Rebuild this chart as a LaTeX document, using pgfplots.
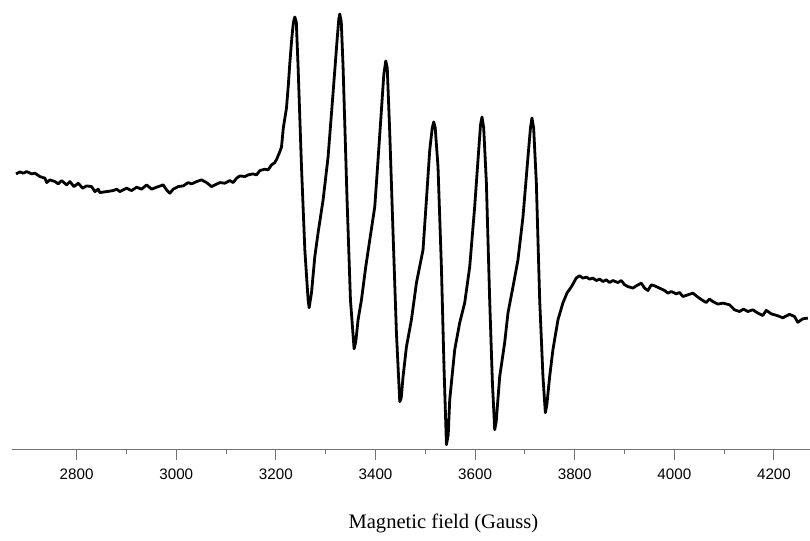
\documentclass[border=0pt]{standalone}
\usepackage{pgfplots}
\pgfplotsset{compat=1.18}
\usepackage{fontspec}
\setmainfont{Liberation Sans}
\newfontfamily\timesf{Liberation Serif}
\begin{document}
\begin{tikzpicture}
\begin{axis}[
  scale only axis,
  width=399pt, height=225pt,
  xmin=2670.2, xmax=4271.3,
  ymin=0, ymax=450,
  axis x line*=bottom,
  axis y line=none,
  clip=false,
  xtick={2800,3000,3200,3400,3600,3800,4000,4200},
  minor x tick num=1,
  tick align=outside,
  major tick length=5pt,
  minor tick length=2pt,
  x axis line style={draw=black!55, line width=0.5pt, -},
  every tick/.style={draw=black!55, line width=0.5pt},
  /pgf/number format/assume math mode=true,
  /pgf/number format/set thousands separator={},
  xticklabel style={font=\fontsize{7.6}{9}\selectfont, anchor=base, yshift=-9.85pt},
  xlabel={Magnetic field (Gauss)},
  xlabel style={font=\timesf\fontsize{10.3}{12}\selectfont, at={(axis description cs:0.541,0)}, anchor=base, yshift=-39.65pt},
]
\addplot[black, line width=1.4pt, line join=round, mark=none] coordinates {
(2678.2,276) (2686.2,278) (2692.9,276.7) (2699.7,278.3) (2709.7,276) (2716.3,276.7)
(2726.4,273.3) (2736.4,271.7) (2739.8,267.3) (2746.4,270) (2756.5,268.3) (2763.1,266)
(2769.9,269.3) (2779.9,265) (2786.5,268.3) (2794.6,263.3) (2803.2,266.7) (2812.0,261.7)
(2820.1,264) (2830.1,263.3) (2836.7,258.3) (2843.3,260.7) (2846.7,257.3) (2860.2,258.3)
(2873.4,259.3) (2880.2,260.7) (2886.9,258.3) (2900.3,261.7) (2910.3,259.3) (2920.4,262.7)
(2930.4,260.7) (2940.4,265) (2950.5,260.7) (2960.5,262.7) (2973.7,265) (2980.6,260)
(2987.2,256.7) (2993.8,260.7) (3003.8,263.3) (3013.9,264) (3023.9,267.3) (3030.7,266)
(3040.8,268.3) (3050.8,270) (3060.8,267.3) (3070.9,263.3) (3077.5,265) (3087.5,267.3)
(3097.5,266.7) (3107.6,269.3) (3114.2,267.3) (3121.0,271.7) (3127.6,274) (3137.7,273.3)
(3144.3,275) (3154.3,276) (3161.1,275) (3167.8,279.3) (3177.8,280.7) (3184.4,280)
(3191.2,285) (3197.9,287.3) (3202.5,291.7) (3207.9,298.3)
(3211.3,303) (3214.9,322) (3221.3,342) (3225.0,365) (3228.0,387) (3232.0,412)
(3235.0,427) (3238.0,433) (3241.0,428) (3244.6,383) (3251.4,283) (3258.1,200)
(3264.7,150) (3266.7,142) (3271.5,157) (3278.1,193) (3284.7,217) (3294.8,250)
(3304.8,293) (3314.8,357) (3322.9,410) (3326.3,431) (3328.3,436) (3331.3,428)
(3334.9,383) (3342.9,250) (3349.7,150) (3357.0,101) (3360.4,108) (3365.0,130)
(3371.8,150) (3380.4,183) (3388.5,210) (3398.5,243) (3405.1,290) (3411.9,340)
(3416.6,375) (3420.6,389) (3423.6,382) (3428.6,317) (3435.2,217) (3442.0,117)
(3448.7,48) (3451.7,52) (3455.3,73) (3462.1,103) (3472.1,130) (3482.2,167)
(3495.4,200) (3502.2,250) (3508.9,300) (3513.9,322) (3516.9,328) (3519.9,322)
(3525.5,283) (3532.3,183) (3537.5,83) (3542.4,5) (3546.0,15) (3549.0,50)
(3559.0,100) (3569.0,127) (3579.1,147) (3589.1,183) (3599.1,243) (3607.2,300)
(3610.8,325) (3613.8,333) (3617.2,322) (3622.6,267) (3629.2,150) (3634.7,67)
(3639.3,20) (3642.3,28) (3649.3,73) (3659.3,107) (3666.0,137) (3676.0,163)
(3686.0,190) (3696.1,233) (3706.1,293) (3711.1,322) (3714.1,332) (3717.5,322)
(3722.9,267) (3729.6,150) (3736.2,73) (3741.0,37) (3744.0,45) (3749.6,73)
(3756.2,100) (3766.3,130) (3776.3,147) (3784.7,157) (3793.2,163) (3798.8,168)
(3803.2,172)
(3809.8,174) (3816.4,171.7) (3823.3,172.7) (3829.9,170.7) (3836.5,171.7) (3843.3,169.3)
(3849.9,170.7) (3856.6,168.3) (3863.4,170) (3870.0,167.3) (3876.6,169.3) (3886.7,167.3)
(3893.5,169.3) (3900.1,165) (3906.7,163.3) (3916.8,161.7) (3923.6,164) (3933.6,166.7)
(3940.2,161.7) (3946.9,159.3) (3953.7,165) (3960.3,164) (3970.3,161.7) (3980.4,159.3)
(3987.0,156.7) (3993.8,158.3) (4003.8,156) (4010.5,157.3) (4017.1,153.3) (4027.1,155)
(4037.1,156.7) (4047.2,152.7) (4057.2,149.3) (4064.0,147.3) (4070.6,150.7) (4077.3,148.3)
(4087.3,145.7) (4097.3,146.7) (4110.8,145) (4120.8,140) (4130.8,138.3) (4138.9,140.7)
(4147.5,138.3) (4157.5,140) (4167.6,136.7) (4177.6,134.3) (4184.4,139.5) (4194.4,136)
(4207.7,134) (4217.7,132) (4231.2,135.5) (4241.2,133.3) (4247.8,127.5) (4257.8,131)
(4267.9,131.7)
};
\end{axis}
\path ([xshift=-6pt]current axis.south west) rectangle (current axis.north east);
\end{tikzpicture}
\end{document}
